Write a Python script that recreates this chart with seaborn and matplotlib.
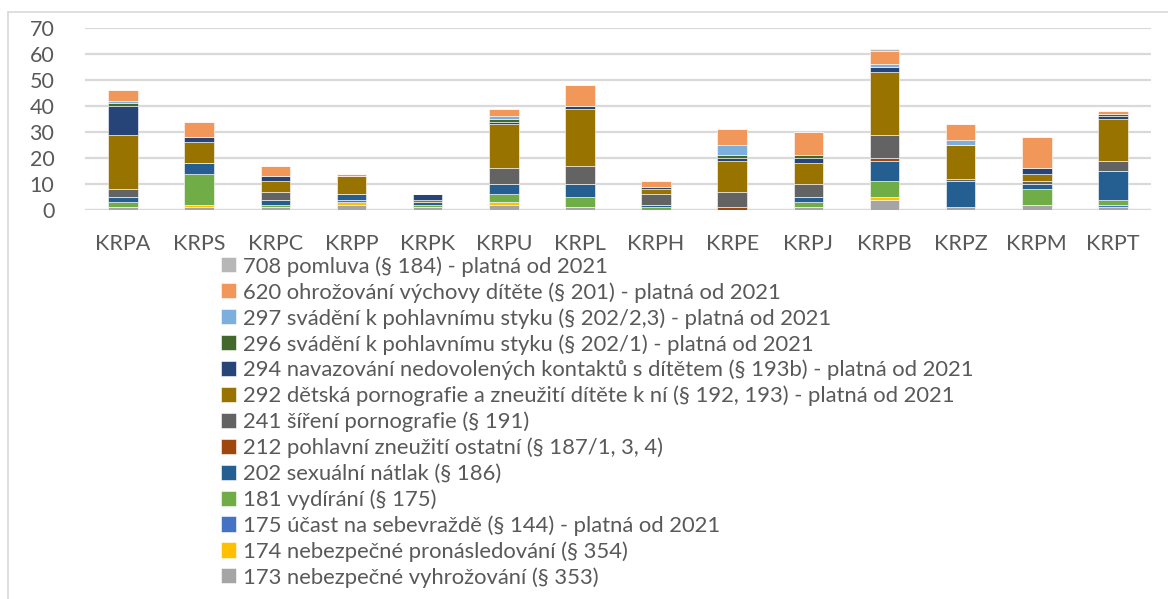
import matplotlib
matplotlib.use("Agg")
import matplotlib.pyplot as plt
from matplotlib.lines import Line2D
import seaborn as sns


# Categories (regional police directorates)
regions = ["KRPA", "KRPS", "KRPC", "KRPP", "KRPK", "KRPU", "KRPL",
           "KRPH", "KRPE", "KRPJ", "KRPB", "KRPZ", "KRPM", "KRPT"]

# Series, in stacking order (bottom -> top)
s173 = [1, 1, 1, 2, 1, 2, 1, 0, 0, 1, 4, 1, 2, 1]
s174 = [0, 1, 0, 1, 0, 1, 0, 0, 0, 0, 1, 0, 0, 0]
s175 = [0, 0, 0, 1, 0, 0, 0, 0, 0, 0, 0, 0, 0, 1]
s181 = [2, 12, 1, 0, 1, 3, 4, 1, 0, 2, 6, 0, 6, 2]
s202 = [2, 4, 2, 2, 1, 4, 5, 1, 0, 2, 8, 10, 2, 11]
s212 = [0, 0, 0, 0, 0, 0, 0, 0, 1, 0, 1, 0, 0, 0]
s241 = [3, 0, 3, 0, 0, 6, 7, 4, 6, 5, 9, 1, 1, 4]
s292 = [21, 8, 4, 7, 1, 17, 22, 2, 12, 8, 24, 13, 3, 16]
s294 = [11, 2, 2, 0, 2, 1, 1, 1, 1, 2, 2, 0, 2, 1]
s296 = [1, 0, 0, 0, 0, 1, 0, 0, 1, 1, 0, 0, 0, 1]
s297 = [1, 0, 0, 0, 0, 1, 0, 0, 4, 0, 1, 2, 0, 0]
s620 = [4, 6, 4, 1, 0, 3, 8, 2, 6, 9, 5, 6, 12, 1]
s708 = [0, 0, 0, 0, 0, 0, 0, 0, 0, 0, 1, 0, 0, 0]

series_names = [
    "173 nebezpečné vyhrožování (§ 353)",
    "174 nebezpečné pronásledování (§ 354)",
    "175 účast na sebevraždě (§ 144) - platná od 2021",
    "181 vydírání (§ 175)",
    "202 sexuální nátlak (§ 186)",
    "212 pohlavní zneužití ostatní (§ 187/1, 3, 4)",
    "241 šíření pornografie (§ 191)",
    "292 dětská pornografie a zneužití dítěte k ní (§ 192, 193) - platná od 2021",
    "294 navazování nedovolených kontaktů s dítětem (§ 193b) - platná od 2021",
    "296 svádění k pohlavnímu styku (§ 202/1) - platná od 2021",
    "297 svádění k pohlavnímu styku (§ 202/2,3) - platná od 2021",
    "620 ohrožování výchovy dítěte (§ 201) - platná od 2021",
    "708 pomluva (§ 184) - platná od 2021",
]
series_values = [s173, s174, s175, s181, s202, s212, s241,
                 s292, s294, s296, s297, s620, s708]
series_colors = ["#A5A5A5", "#FFC000", "#4472C4", "#70AD47", "#255E91",
                 "#9E480E", "#636363", "#997300", "#264478", "#43682B",
                 "#7CAFDD", "#F1975A", "#B7B7B7"]

text_color = "#595959"
grid_color = "#D9D9D9"

sns.set_style("white")
plt.rcParams["font.family"] = ["Lato", "DejaVu Sans"]

fig = plt.figure(figsize=(11.68, 5.99), dpi=100)
ax = fig.add_axes([85 / 1168, 1 - 210 / 599, (1151 - 85) / 1168, 182 / 599])

bottom = [0] * len(regions)
for name, vals, col in zip(series_names, series_values, series_colors):
    sns.barplot(
        x=regions,
        y=vals,
        bottom=bottom,
        color=col,
        saturation=1,
        width=0.39,
        label=name,
        edgecolor="white",
        linewidth=0.4,
        ax=ax
    )
    bottom = [b + v for b, v in zip(bottom, vals)]

if ax.get_legend() is not None:
    ax.get_legend().remove()

ax.set_ylim(0, 70)
ax.set_xlim(-0.5, len(regions) - 0.5)
ax.set_yticks(range(0, 71, 10))
ax.yaxis.grid(True, color=grid_color, linewidth=1.6)
ax.set_axisbelow(True)
sns.despine(ax=ax, left=True, top=True, right=True, bottom=True)
ax.axhline(0, color=grid_color, linewidth=1.6, zorder=0.5)

ax.tick_params(axis="both", length=0, labelsize=15.5, colors=text_color)
ax.tick_params(axis="x", pad=17)
ax.tick_params(axis="y", pad=22)
ax.set_xlabel("")
ax.set_ylabel("")

# Legend below the plot, top series first
handles, labels = ax.get_legend_handles_labels()
fig.legend(
    handles[::-1],
    labels[::-1],
    loc="upper left",
    bbox_to_anchor=(221 / 1168, 1 - 256 / 599),
    frameon=False,
    fontsize=15.8,
    labelcolor=text_color,
    handlelength=0.68,
    handleheight=0.68,
    handletextpad=0.3,
    labelspacing=0.245,
    borderaxespad=0,
    borderpad=0
)

# Thin chart-area border (top and left edges visible)
fig.add_artist(Line2D([8 / 1168, 1], [1 - 12 / 599, 1 - 12 / 599],
                      color=grid_color, linewidth=1.2))
fig.add_artist(Line2D([8 / 1168, 8 / 1168], [0, 1 - 12 / 599],
                      color=grid_color, linewidth=1.2))

fig.savefig("out.png", dpi=100)
plt.close(fig)
